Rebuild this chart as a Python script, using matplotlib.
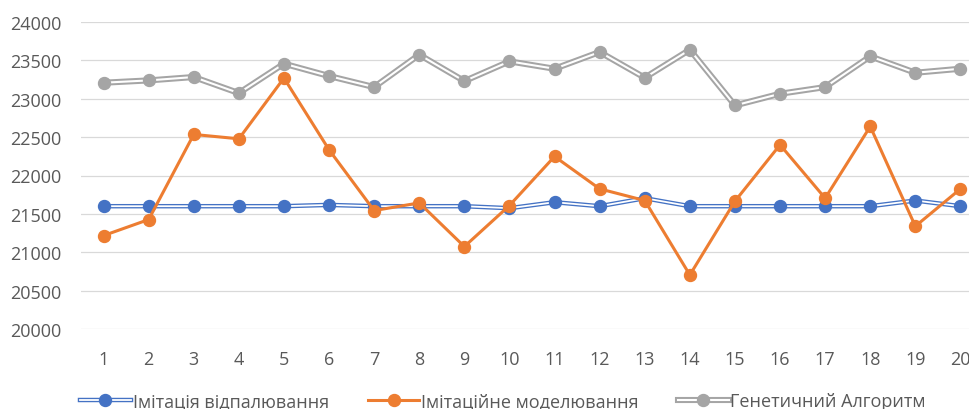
import numpy as np
from matplotlib import pyplot as plt
from matplotlib.lines import Line2D
from matplotlib.legend_handler import HandlerTuple

plt.rcParams['font.family'] = ['Open Sans', 'DejaVu Sans']

runs = list(range(1, 21))
annealing = [21600, 21600, 21600, 21600, 21600, 21617, 21600, 21600, 21600, 21574,
             21652, 21600, 21704, 21600, 21600, 21600, 21600, 21600, 21674, 21600]
simulation = [21217, 21426, 22535, 22478, 23270, 22335, 21543, 21643, 21074, 21609,
              22248, 21826, 21674, 20704, 21665, 22400, 21704, 22639, 21339, 21826]
genetic = [23209, 23239, 23283, 23074, 23457, 23296, 23152, 23574, 23230, 23487,
           23391, 23609, 23274, 23639, 22913, 23065, 23152, 23552, 23339, 23391]
labels = ["Імітація відпалювання", "Імітаційне моделювання", "Генетичний Алгоритм"]

BLUE = "#4472C4"
ORANGE = "#ED7D31"
GRAY = "#A5A5A5"
TXT = "#595959"

fig = plt.figure(figsize=(9.7, 4.1), dpi=100)
ax = fig.add_axes([81 / 970, 80 / 410, 902 / 970, 307 / 410])

ax.set_xlim(0.5, 20.5)
ax.set_ylim(20000, 24000)
ax.set_yticks(np.arange(20000, 24001, 500))
ax.set_xticks(runs)
ax.grid(axis="y", color="#d9d9d9", lw=0.9)
ax.set_axisbelow(True)
for s in ax.spines.values():
    s.set_visible(False)
ax.tick_params(length=0, labelsize=13, colors=TXT)
ax.tick_params(axis="y", pad=14)
ax.tick_params(axis="x", pad=15)

x = np.array(runs)

# double ("compound") lines: thick colour + thin white core
def double_line(y, color, outer, inner, ms):
    a = ax.plot(x, y, color=color, lw=outer, solid_joinstyle="miter")[0]
    b = ax.plot(x, y, color="white", lw=inner, solid_joinstyle="miter")[0]
    m = ax.plot(x, y, ls="none", marker="o", ms=ms, color=color)[0]
    return (a, b, m)

h1 = double_line(annealing, BLUE, 3.2, 1.3, 8.6)
o = ax.plot(x, simulation, color=ORANGE, lw=2.2, marker="o", ms=8.6)[0]
h3 = double_line(genetic, GRAY, 4.4, 1.5, 8.6)

leg_handles = []
for c, outer, inner in [(BLUE, 3.2, 1.3), (ORANGE, 2.2, 0), (GRAY, 4.4, 1.5)]:
    parts = [Line2D([], [], color=c, lw=outer)]
    if inner:
        parts.append(Line2D([], [], color="white", lw=inner))
    parts.append(Line2D([], [], ls="none", marker="o", ms=8.6, color=c))
    leg_handles.append(tuple(parts))

fig.legend(leg_handles, labels, handler_map={tuple: HandlerTuple(ndivide=1)},
           loc="center", bbox_to_anchor=(503 / 970, 1 - 402 / 410), ncol=3,
           frameon=False, fontsize=13, labelcolor=TXT, handlelength=2.8,
           handletextpad=0.1, columnspacing=2.2, borderpad=0)

fig.savefig("out.png", dpi=100)
